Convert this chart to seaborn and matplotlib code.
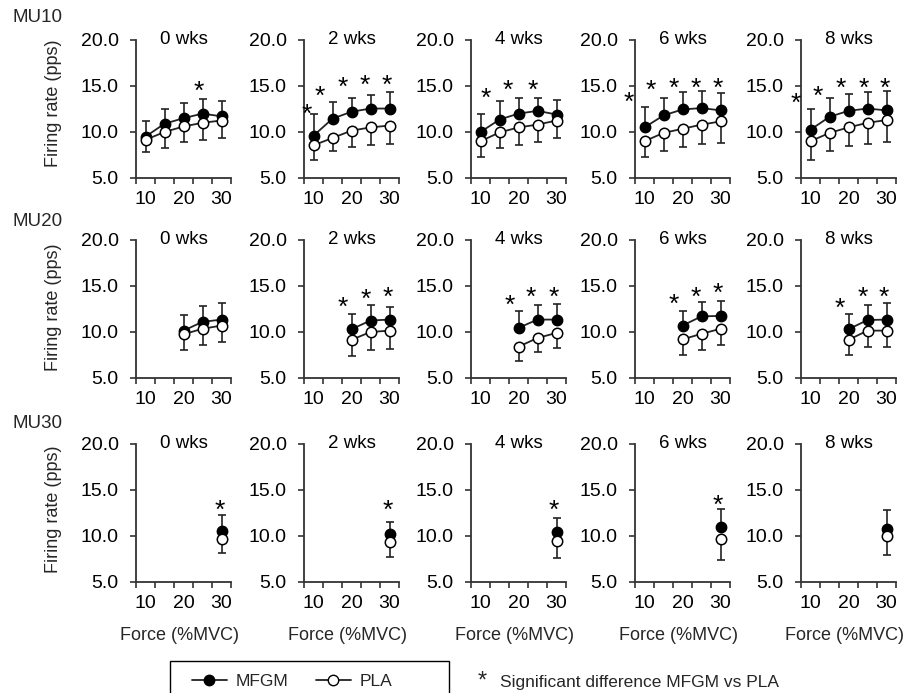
import matplotlib
matplotlib.use("Agg")
import matplotlib.pyplot as plt
import seaborn as sns
from matplotlib.lines import Line2D
from matplotlib.patches import Rectangle
from matplotlib.ticker import FixedLocator

# ---------------- data ----------------
force = [10, 15, 20, 25, 30]
weeks = ["0 wks", "2 wks", "4 wks", "6 wks", "8 wks"]
units = ["MU10", "MU20", "MU30"]
minor_ticks = [7.5, 12.5, 17.5, 22.5, 27.5, 32.5]
tick_labels = [10, 20, 30]

# MU10: force 10..30
mu10_mfgm = [[9.5, 10.9, 11.5, 12.0, 11.7],
             [9.6, 11.45, 12.2, 12.55, 12.55],
             [10.0, 11.35, 12.0, 12.3, 11.9],
             [10.5, 11.8, 12.45, 12.6, 12.35],
             [10.25, 11.65, 12.3, 12.55, 12.35]]
mu10_mfgm_sd = [[1.75, 1.6, 1.7, 1.55, 1.65],
                [2.35, 1.8, 1.5, 1.45, 1.8],
                [2.0, 2.0, 1.65, 1.4, 1.55],
                [2.2, 1.95, 1.9, 1.9, 1.9],
                [2.2, 2.0, 1.8, 1.8, 2.1]]
mu10_pla = [[9.15, 10.0, 10.6, 11.0, 11.25],
            [8.55, 9.35, 10.15, 10.5, 10.7],
            [9.0, 9.95, 10.5, 10.8, 11.25],
            [9.0, 9.9, 10.35, 10.8, 11.15],
            [9.0, 9.9, 10.5, 11.0, 11.3]]
mu10_pla_sd = [[1.3, 1.7, 1.65, 1.85, 1.85],
               [1.55, 1.45, 1.8, 1.9, 2.0],
               [1.75, 1.65, 1.95, 1.9, 1.95],
               [1.75, 1.95, 2.0, 2.05, 2.3],
               [2.0, 1.95, 2.05, 2.25, 2.35]]

# MU20: force 20..30
mu20_mfgm = [[10.15, 11.1, 11.35],
             [10.3, 11.25, 11.35],
             [10.45, 11.35, 11.35],
             [10.7, 11.7, 11.75],
             [10.3, 11.3, 11.35]]
mu20_mfgm_sd = [[1.7, 1.75, 1.85],
                [1.7, 1.65, 1.4],
                [1.8, 1.6, 1.7],
                [1.55, 1.55, 1.65],
                [1.65, 1.65, 1.85]]
mu20_pla = [[9.75, 10.35, 10.7],
            [9.15, 10.0, 10.15],
            [8.4, 9.35, 9.9],
            [9.2, 9.8, 10.35],
            [9.15, 10.15, 10.15]]
mu20_pla_sd = [[1.75, 1.75, 1.75],
               [1.8, 1.95, 2.0],
               [1.6, 1.55, 1.6],
               [1.75, 1.75, 1.75],
               [1.65, 1.8, 1.75]]

# MU30: force 30
mu30_mfgm = [[10.5], [10.2], [10.45], [11.0], [10.75]]
mu30_mfgm_sd = [[1.8], [1.35], [1.5], [1.95], [2.1]]
mu30_pla = [[9.65], [9.35], [9.5], [9.7], [10.0]]
mu30_pla_sd = [[1.55], [1.6], [1.9], [2.3], [2.05]]

# significance asterisks (x in %MVC, y in pps)
mu10_star_x = [[24.0], [8.1, 11.7, 17.75, 23.55, 29.4], [11.5, 17.3, 23.75],
               [5.9, 11.7, 17.75, 23.55, 29.4], [6.15, 11.95, 17.95, 24.0, 29.55]]
mu10_star_y = [[15.2], [12.7, 14.7, 15.7, 15.9, 15.9], [14.5, 15.4, 15.4],
               [14.0, 15.35, 15.6, 15.6, 15.6], [13.9, 14.7, 15.6, 15.6, 15.6]]
mu20_star_x = [[], [17.6, 23.85, 29.55], [17.6, 23.15, 29.4],
               [17.6, 23.55, 29.4], [17.75, 23.85, 29.4]]
mu20_star_y = [[], [13.45, 14.36, 14.54], [13.7, 14.54, 14.61],
               [13.81, 14.54, 15.0], [13.34, 14.54, 14.54]]
mu30_star_x = [[29.55], [29.55], [29.4], [29.4], []]
mu30_star_y = [[13.6], [13.6], [13.6], [14.15], []]

mfgm_all = [mu10_mfgm, mu20_mfgm, mu30_mfgm]
mfgm_sd_all = [mu10_mfgm_sd, mu20_mfgm_sd, mu30_mfgm_sd]
pla_all = [mu10_pla, mu20_pla, mu30_pla]
pla_sd_all = [mu10_pla_sd, mu20_pla_sd, mu30_pla_sd]
star_x_all = [mu10_star_x, mu20_star_x, mu30_star_x]
star_y_all = [mu10_star_y, mu20_star_y, mu30_star_y]

# ---------------- style ----------------
sns.set_theme(style="ticks")
plt.rcParams["font.family"] = ["Liberation Sans", "DejaVu Sans"]

W, H = 911, 693
fig = plt.figure(figsize=(W / 100, H / 100), dpi=100)
fig.patch.set_facecolor("white")

col_left = [136, 304, 471, 635, 801]
ax_w = 95
row_top = [40, 240, 444]
ax_h = 138

spine_c = "#333333"
line_c = "#222222"
tick_fs = 14
STAR_FS = 19

for r, unit in enumerate(units):
    for c, wk in enumerate(weeks):
        left = col_left[c] / W
        bottom = 1 - (row_top[r] + ax_h) / H
        ax = fig.add_axes([left, bottom, ax_w / W, ax_h / H])
        ax.set_facecolor("white")

        m = mfgm_all[r][c]
        msd = mfgm_sd_all[r][c]
        p = pla_all[r][c]
        psd = pla_sd_all[r][c]
        xs = force[-len(m):]
        zeros = [0] * len(m)

        ax.errorbar(xs, m, yerr=[zeros, msd], fmt="none", ecolor=line_c,
                    elinewidth=1.2, capsize=2.8, capthick=1.2, zorder=2)
        ax.errorbar(xs, p, yerr=[psd, zeros], fmt="none", ecolor=line_c,
                    elinewidth=1.2, capsize=2.8, capthick=1.2, zorder=2)
        sns.lineplot(x=xs, y=m, ax=ax, color=line_c, lw=1.3, marker="o",
                     markersize=7.5, markerfacecolor="black",
                     markeredgecolor="black", markeredgewidth=1.0, zorder=3)
        sns.lineplot(x=xs, y=p, ax=ax, color=line_c, lw=1.3, marker="o",
                     markersize=7.5, markerfacecolor="white",
                     markeredgecolor="black", markeredgewidth=1.1, zorder=4)

        for sx, sy in zip(star_x_all[r][c], star_y_all[r][c]):
            ax.annotate("*", (sx, sy), xytext=(0, -0.57 * STAR_FS),
                        textcoords="offset points", ha="center", va="baseline",
                        fontsize=STAR_FS, color="black", annotation_clip=False)

        ax.set_xlim(7.5, 32.5)
        ax.set_ylim(5, 20)
        ax.xaxis.set_major_locator(FixedLocator(tick_labels))
        ax.xaxis.set_minor_locator(FixedLocator(minor_ticks))
        ax.set_xticklabels([str(t) for t in tick_labels])
        ax.set_yticks([5, 10, 15, 20])
        ax.set_yticklabels(["5.0", "10.0", "15.0", "20.0"])
        ax.tick_params(axis="x", which="major", length=0, pad=9,
                       labelsize=tick_fs, colors="black")
        ax.tick_params(axis="x", which="minor", length=4.5, width=1.2,
                       direction="out", color=spine_c)
        ax.tick_params(axis="y", which="major", length=4.5, width=1.2,
                       direction="out", pad=8, labelsize=tick_fs,
                       color=spine_c, labelcolor="black")
        for s in ["top", "right"]:
            ax.spines[s].set_visible(False)
        for s in ["left", "bottom"]:
            ax.spines[s].set_color(spine_c)
            ax.spines[s].set_linewidth(1.3)
        ax.set_xlabel("")
        ax.set_ylabel("")
        ax.grid(False)

        ax.text(0.5, 1.0, wk, transform=ax.transAxes, ha="center",
                va="center", fontsize=13.5, color="black")

        if r == 2:
            fig.text((col_left[c] + ax_w / 2 - 4) / W, 1 - 636 / H,
                     "Force (%MVC)", ha="center", va="center", fontsize=13)

    fig.text(13 / W, 1 - [17, 222, 424][r] / H, unit, ha="left", va="center",
             fontsize=13.5)
    fig.text(54 / W, 1 - [103, 307, 509][r] / H, "Firing rate (pps)",
             rotation=90, ha="center", va="center", fontsize=13)

# legend box
fig.patches.append(Rectangle((170 / W, -5 / H), 279 / W, (693 - 661 + 5) / H,
                             transform=fig.transFigure, fill=False,
                             edgecolor="black", linewidth=1.0))
handles = [Line2D([], [], color=line_c, lw=1.3, marker="o", markersize=7.5,
                  markerfacecolor="black", markeredgecolor="black"),
           Line2D([], [], color=line_c, lw=1.3, marker="o", markersize=7.5,
                  markerfacecolor="white", markeredgecolor="black")]
fig.legend(handles=handles, labels=["MFGM", "PLA"], loc="center",
           bbox_to_anchor=(292 / W, 1 - 681 / H), ncol=2, frameon=False,
           fontsize=12.5, handlelength=2.0, columnspacing=1.6,
           handletextpad=0.5)

fig.text(482 / W, 1 - 688 / H, "*", ha="center", va="baseline", fontsize=17)
fig.text(500 / W, 1 - 682 / H, "Significant difference MFGM vs PLA",
         ha="left", va="center", fontsize=12.5)

fig.savefig("out.png", dpi=100, facecolor="white")
